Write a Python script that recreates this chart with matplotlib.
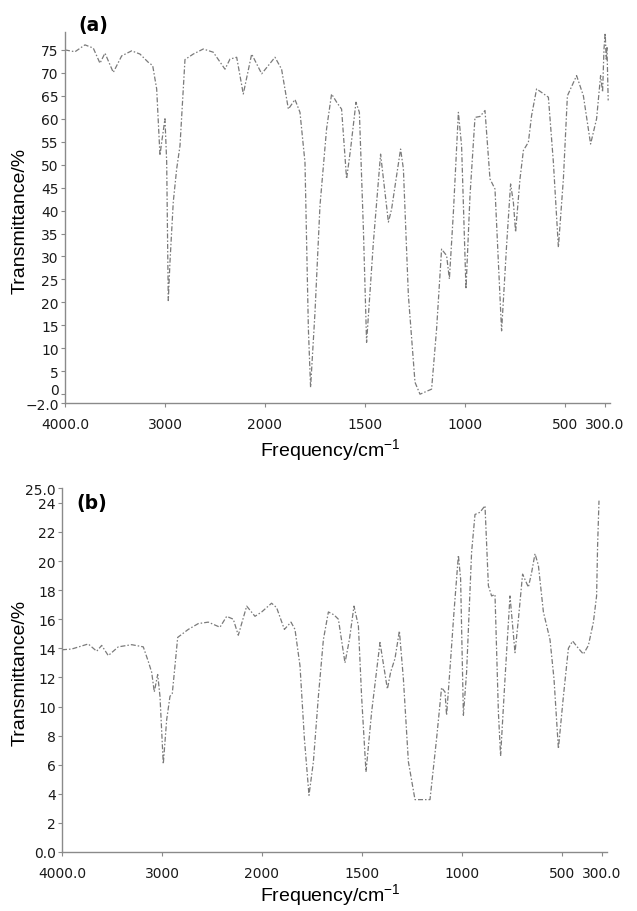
import numpy as np
import matplotlib.pyplot as plt

plt.rcParams['mathtext.fontset'] = 'custom'
plt.rcParams['mathtext.rm'] = 'Liberation Sans'
plt.rcParams['mathtext.default'] = 'regular'

# spectrum (a)
wn_a = [4000, 3900, 3800, 3717, 3650, 3600, 3517, 3433, 3333, 3250,
        3167, 3123, 3083, 3050, 3033, 3000, 2983, 2967, 2950, 2917,
        2883, 2850, 2800, 2717, 2617, 2517, 2400, 2350, 2283, 2217,
        2133, 2033, 1950, 1917, 1883, 1850, 1825, 1800, 1783, 1772,
        1750, 1725, 1692, 1667, 1640, 1617, 1592, 1572, 1545, 1528,
        1508, 1492, 1458, 1422, 1383, 1367, 1342, 1322, 1308, 1283,
        1250, 1225, 1167, 1142, 1117, 1092, 1078, 1058, 1033, 1017,
        995, 975, 950, 925, 900, 875, 850, 833, 817, 792,
        772, 758, 747, 725, 708, 683, 667, 642, 583, 558,
        533, 508, 488, 442, 408, 372, 342, 322, 312, 305,
        299, 294, 290, 284]
tr_a = [75.0, 74.6, 76.1, 75.4, 72.1, 74.3, 70.1, 73.7, 74.8, 74.1,
        72.3, 71.6, 66.5, 52.0, 54.9, 60.0, 50.6, 20.4, 28.8, 41.9,
        49.1, 54.1, 72.9, 74.1, 75.2, 74.5, 70.8, 73.0, 73.4, 65.4,
        74.1, 69.8, 73.4, 70.8, 62.1, 64.2, 61.4, 50.5, 14.2, 1.5,
        17.8, 41.1, 57.8, 65.4, 63.5, 62.1, 46.9, 53.4, 63.6, 61.4,
        36.0, 11.3, 33.1, 52.3, 37.5, 40.3, 47.6, 53.4, 49.1, 21.5,
        2.6, 0.0, 1.1, 14.2, 31.6, 30.2, 25.1, 39.6, 61.4, 54.1,
        22.9, 43.2, 60.3, 60.5, 61.8, 46.9, 44.7, 28.7, 13.8, 32.4,
        45.8, 41.8, 35.3, 46.9, 53.1, 54.9, 60.7, 66.5, 64.7, 50.5,
        32.0, 46.9, 65.0, 69.4, 65.0, 54.5, 60.0, 69.4, 65.8, 75.2,
        78.7, 73.0, 75.5, 64.0]

# spectrum (b)
wn_b = [4000, 3903, 3737, 3653, 3603, 3537, 3437, 3303, 3187, 3137,
        3103, 3077, 3043, 3020, 2987, 2953, 2920, 2897, 2870, 2843,
        2737, 2637, 2537, 2420, 2353, 2287, 2237, 2153, 2070, 2003,
        1952, 1927, 1888, 1855, 1835, 1810, 1788, 1765, 1743, 1718,
        1693, 1668, 1640, 1618, 1585, 1563, 1540, 1518, 1502, 1480,
        1452, 1410, 1373, 1357, 1335, 1313, 1293, 1268, 1235, 1160,
        1127, 1102, 1085, 1077, 1060, 1040, 1018, 1007, 993, 977,
        952, 935, 910, 885, 868, 852, 835, 818, 807, 785,
        760, 735, 718, 697, 668, 652, 635, 618, 593, 560,
        540, 518, 493, 468, 447, 418, 393, 368, 343, 327,
        322, 315]
tr_b = [13.9, 13.95, 14.3, 13.8, 14.2, 13.5, 14.1, 14.25, 14.1, 13.1,
        12.35, 11.0, 12.2, 10.7, 6.05, 9.1, 10.7, 10.9, 12.8, 14.75,
        15.3, 15.7, 15.8, 15.45, 16.2, 16.0, 14.9, 16.9, 16.2, 16.5,
        17.1, 16.8, 15.3, 15.8, 15.3, 12.8, 7.8, 3.9, 6.2, 10.7,
        14.6, 16.5, 16.3, 16.0, 13.0, 14.6, 16.9, 15.55, 10.7, 5.5,
        9.6, 14.4, 11.2, 12.35, 13.3, 15.2, 11.9, 6.2, 3.6, 3.6,
        7.8, 11.3, 11.0, 9.4, 12.6, 16.5, 20.4, 18.8, 9.4, 12.35,
        20.6, 23.2, 23.35, 23.8, 18.3, 17.6, 17.7, 9.6, 6.6, 11.9,
        17.6, 13.7, 16.0, 19.1, 18.2, 19.2, 20.5, 19.7, 16.5, 14.6,
        11.9, 7.1, 10.7, 14.0, 14.5, 14.0, 13.6, 14.2, 15.8, 17.6,
        21.05, 24.15]

xticks = [4000, 3000, 2000, 1500, 1000, 500, 300]
xtick_labels = ['4000.0', '3000', '2000', '1500', '1000', '500', '300.0']
yticks_a = [-2] + list(range(0, 80, 5))
ytick_labels_a = ['\u22122.0'] + [str(v) for v in range(0, 80, 5)]
yticks_b = list(range(0, 26, 2)) + [25]
ytick_labels_b = ['0.0'] + [str(v) for v in range(2, 26, 2)] + ['25.0']


# instrument axis: scale doubles below 2000 cm-1
def forward(w):
    w = np.asarray(w, dtype=float)
    return np.where(w < 2000, 2 * w, w + 2000)


def inverse(u):
    u = np.asarray(u, dtype=float)
    return np.where(u < 4000, u / 2, u - 2000)


def style(ax, yticks, ylabels, ylim):
    ax.set_xscale('function', functions=(forward, inverse))
    ax.set_xlim(4000, 275)
    ax.set_ylim(*ylim)
    ax.set_xticks(xticks)
    ax.set_xticklabels(xtick_labels)
    ax.set_yticks(yticks)
    ax.set_yticklabels(ylabels)
    ax.minorticks_off()
    for s in ['top', 'right']:
        ax.spines[s].set_visible(False)
    for s in ['left', 'bottom']:
        ax.spines[s].set_color('#8a8a8a')
        ax.spines[s].set_linewidth(1.0)
    ax.tick_params(axis='both', colors='#8a8a8a', labelcolor='#1a1a1a',
                   labelsize=10, length=3, width=0.8)
    ax.tick_params(axis='x', pad=7)
    ax.tick_params(axis='y', pad=1.5)


line_kw = dict(color='#7a7a7a', lw=0.9, linestyle=(0, (4, 1.6, 1.2, 1.6)))

fig = plt.figure(figsize=(6.37, 9.12), dpi=100)

ax_a = fig.add_axes([0.102, 0.5566, 0.8556, 0.4077])
ax_a.plot(wn_a, tr_a, **line_kw)
style(ax_a, yticks_a, ytick_labels_a, (-2, 79))
ax_a.get_yticklabels()[1].set_verticalalignment('baseline')

ax_b = fig.add_axes([0.0973, 0.0647, 0.8556, 0.3988])
ax_b.plot(wn_b, tr_b, **line_kw)
style(ax_b, yticks_b, ytick_labels_b, (0, 25))

lab_kw = dict(fontsize=14, family='Liberation Sans', ha='center')
fig.text(0.0314, 0.7577, 'Transmittance/%', rotation=90, va='center', **lab_kw)
fig.text(0.0314, 0.262, 'Transmittance/%', rotation=90, va='center', **lab_kw)
fig.text(0.518, 0.5066, 'Frequency/cm$^{-1}$', va='center', **lab_kw)
fig.text(0.518, 0.004, 'Frequency/cm$^{-1}$', va='bottom', **lab_kw)

fig.text(0.146, 0.9715, '(a)', fontsize=13.5, fontweight='bold',
         ha='center', va='center')
fig.text(0.1444, 0.4474, '(b)', fontsize=13.5, fontweight='bold',
         ha='center', va='center')

fig.savefig('out.png', dpi=100)
